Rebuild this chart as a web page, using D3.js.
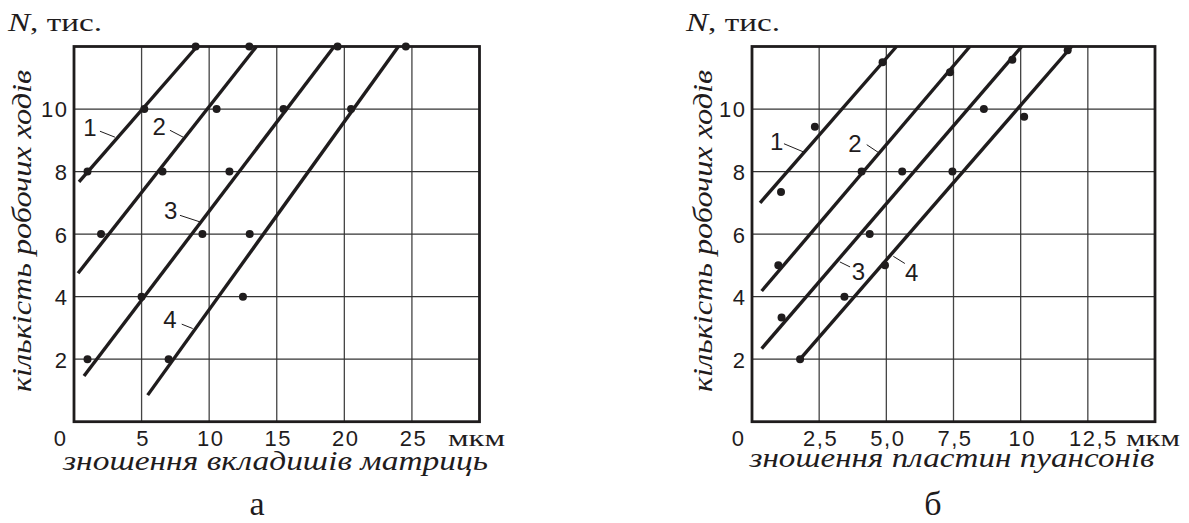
<!DOCTYPE html>
<html>
<head>
<meta charset="utf-8">
<script src="https://cdn.jsdelivr.net/npm/d3@7"></script>
<style>
  html, body { margin: 0; padding: 0; background: #fff; }
  svg { display: block; }
</style>
</head>
<body>
<svg id="chart" width="1189" height="523"></svg>
<script>
// ---------- DATA ----------
// Panel a: wear of die inserts (мкм) vs number of working strokes (N, thousand)
const aXTicks = [0, 5, 10, 15, 20, 25];
const aYTicks = [2, 4, 6, 8, 10];
const aSeriesNames = ["1", "2", "3", "4"];
const aPoints1 = [[1.0, 8], [5.2, 10], [9.0, 12]];
const aPoints2 = [[2.0, 6], [6.55, 8], [10.55, 10], [12.97, 12]];
const aPoints3 = [[1.0, 2], [5.0, 4], [9.5, 6], [11.5, 8], [15.5, 10], [19.5, 12]];
const aPoints4 = [[7.0, 2], [12.5, 4], [13.0, 6], [20.5, 10], [24.55, 12]];
const aLineStart = [[0.37, 7.67], [0.3, 4.75], [0.74, 1.46], [5.45, 0.85]];
const aLineEnd = [[9.1, 12], [13.5, 12], [19.25, 12], [24.0, 12]];

// Panel б: wear of punch plates (мкм) vs number of working strokes
const bXTicks = [0, 2.5, 5.0, 7.5, 10, 12.5];
const bXTickLabels = ["0", "2,5", "5,0", "7,5", "10", "12,5"];
const bYTicks = [2, 4, 6, 8, 10];
const bSeriesNames = ["1", "2", "3", "4"];
const bPoints1 = [[1.08, 7.35], [2.34, 9.43], [4.86, 11.5]];
const bPoints2 = [[0.98, 5.0], [4.08, 8.0], [7.37, 11.18]];
const bPoints3 = [[1.1, 3.33], [4.38, 6.0], [5.59, 8.0], [9.69, 11.58]];
const bPoints4 = [[1.79, 2.0], [3.44, 4.0], [4.95, 5.0], [7.46, 8.0], [8.63, 10.0], [10.13, 9.75], [11.75, 11.88]];
const bLineStart = [[0.3, 7.0], [0.36, 4.18], [0.36, 2.34], [1.79, 2.0]];
const bLineEnd = [[5.38, 12], [8.11, 12], [10.04, 12], [11.9, 12]];

// ---------- TEXTS ----------
const yTitle = "кількість робочих ходів";
const yUnit = "N";
const yUnitRest = ", тис.";
const xUnit = "мкм";
const aXTitle = "зношення вкладишів матриць";
const bXTitle = "зношення пластин пуансонів";
const aCaption = "а";
const bCaption = "б";

// ---------- PANEL CONFIG (layout) ----------
const panels = [
  {
    xDomain: [0, 30], xRange: [74, 479.5],
    xTicks: aXTicks, xTickLabels: aXTicks.map(String),
    yTicks: aYTicks,
    points: [aPoints1, aPoints2, aPoints3, aPoints4],
    lineStart: aLineStart, lineEnd: aLineEnd,
    names: aSeriesNames,
    labels: [
      { t: [1.18, 9.42], l: [[1.92, 9.29], [3.03, 9.1]] },
      { t: [6.31, 9.45], l: [[7.1, 9.32], [8.08, 9.1]] },
      { t: [7.15, 6.76], l: [[7.84, 6.6], [9.32, 6.39]] },
      { t: [7.1, 3.25], l: [[7.97, 3.12], [8.78, 2.98]] }
    ],
    xTitle: aXTitle, caption: aCaption,
    xTitleX: 275.5, xTitleY: 470, xTitleLen: 425,
    captionX: 257, yTitleX: 30.5, unitX: 8, mkmX: 448, mkmLen: 57
  },
  {
    xDomain: [0, 15], xRange: [752, 1155],
    xTicks: bXTicks, xTickLabels: bXTickLabels,
    yTicks: bYTicks,
    points: [bPoints1, bPoints2, bPoints3, bPoints4],
    lineStart: bLineStart, lineEnd: bLineEnd,
    names: bSeriesNames,
    labels: [
      { t: [0.92, 8.95], l: [[1.19, 8.89], [1.91, 8.63]] },
      { t: [3.83, 8.89], l: [[4.27, 8.86], [4.74, 8.59]] },
      { t: [3.96, 4.79], l: [[3.27, 5.11], [3.65, 4.95]] },
      { t: [5.94, 4.76], l: [[5.26, 5.29], [5.69, 5.06]] }
    ],
    xTitle: bXTitle, caption: bCaption,
    xTitleX: 952, xTitleY: 467, xTitleLen: 405,
    captionX: 933, yTitleX: 712, unitX: 686, mkmX: 1126, mkmLen: 54
  }
];

const yDomain = [0, 12];
const yRange = [421.7, 46.5];
const ink = "#1f1c1d";
const SERIF = "Liberation Serif";
const SANS = "Liberation Sans";

const svg = d3.select("#chart");

panels.forEach(p => {
  const x = d3.scaleLinear().domain(p.xDomain).range(p.xRange);
  const y = d3.scaleLinear().domain(yDomain).range(yRange);
  const g = svg.append("g");

  // grid
  const gridX = p.xTicks.filter(v => v > 0);
  g.append("g").selectAll("line").data(gridX).join("line")
    .attr("x1", d => x(d)).attr("x2", d => x(d))
    .attr("y1", y(yDomain[0])).attr("y2", y(yDomain[1]))
    .attr("stroke", "#444").attr("stroke-width", 1.3);
  g.append("g").selectAll("line").data(p.yTicks).join("line")
    .attr("x1", x(p.xDomain[0])).attr("x2", x(p.xDomain[1]))
    .attr("y1", d => y(d)).attr("y2", d => y(d))
    .attr("stroke", "#333").attr("stroke-width", 1.3);

  // frame
  g.append("rect")
    .attr("x", x(p.xDomain[0])).attr("y", y(yDomain[1]))
    .attr("width", x(p.xDomain[1]) - x(p.xDomain[0]))
    .attr("height", y(yDomain[0]) - y(yDomain[1]))
    .attr("fill", "none").attr("stroke", ink).attr("stroke-width", 2.8);

  // x axis tick labels via d3 axis
  const xAxis = d3.axisBottom(x).tickValues(p.xTicks)
    .tickFormat((d, i) => p.xTickLabels[i]).tickSize(0).tickPadding(0);
  const ax = g.append("g").attr("transform", `translate(0,${y(0)})`).call(xAxis);
  ax.attr("font-family", null).attr("font-size", null);
  ax.select(".domain").remove();
  ax.selectAll("text")
    .style("font-family", SANS).style("font-size", "22px").style("letter-spacing", "1.5px")
    .attr("fill", ink)
    .attr("y", 24.5).attr("dy", 0)
    .attr("dx", (d) => d === 0 ? -14 : (d === 12.5 ? 5 : 1));

  // y axis tick labels via d3 axis
  const yAxis = d3.axisLeft(y).tickValues(p.yTicks).tickSize(0).tickPadding(5.5);
  const ay = g.append("g").attr("transform", `translate(${x(p.xDomain[0])},0)`).call(yAxis);
  ay.attr("font-family", null).attr("font-size", null);
  ay.select(".domain").remove();
  ay.selectAll("text")
    .style("font-family", SANS).style("font-size", "22px").style("letter-spacing", "1.5px")
    .attr("fill", ink)
    .attr("dy", "0.36em");

  // fitted lines
  g.append("g").selectAll("line").data(p.lineStart).join("line")
    .attr("x1", d => x(d[0])).attr("y1", d => y(d[1]))
    .attr("x2", (d, i) => x(p.lineEnd[i][0])).attr("y2", (d, i) => y(p.lineEnd[i][1]))
    .attr("stroke", ink).attr("stroke-width", 3.4);

  // points
  p.points.forEach(series => {
    g.append("g").selectAll("circle").data(series).join("circle")
      .attr("cx", d => x(d[0])).attr("cy", d => y(d[1]))
      .attr("r", 4).attr("fill", ink);
  });

  // series labels with leaders
  p.labels.forEach((lb, i) => {
    g.append("line")
      .attr("x1", x(lb.l[0][0])).attr("y1", y(lb.l[0][1]))
      .attr("x2", x(lb.l[1][0])).attr("y2", y(lb.l[1][1]))
      .attr("stroke", ink).attr("stroke-width", 1);
    g.append("text")
      .attr("x", x(lb.t[0])).attr("y", y(lb.t[1]))
      .attr("dy", "0.35em").attr("text-anchor", "middle")
      .style("font-family", SANS).style("font-size", "24px")
      .attr("fill", ink)
      .text(p.names[i]);
  });

  // unit label "N, тис."
  const ut = g.append("text")
    .attr("x", p.unitX).attr("y", 31)
    .style("font-family", SERIF).style("font-size", "26px")
    .attr("textLength", 94).attr("lengthAdjust", "spacingAndGlyphs")
    .attr("fill", ink);
  ut.append("tspan").style("font-style", "italic").text(yUnit);
  ut.append("tspan").text(yUnitRest);

  // мкм
  g.append("text")
    .attr("x", p.mkmX).attr("y", 446)
    .style("font-family", SERIF).style("font-size", "24px")
    .attr("textLength", p.mkmLen).attr("lengthAdjust", "spacingAndGlyphs")
    .attr("fill", ink)
    .text(xUnit);

  // y title (rotated)
  g.append("text")
    .attr("transform", `translate(${p.yTitleX},${231}) rotate(-90)`)
    .attr("text-anchor", "middle")
    .style("font-family", SERIF).style("font-style", "italic").style("font-size", "27px")
    .attr("textLength", 322).attr("lengthAdjust", "spacingAndGlyphs")
    .attr("fill", ink)
    .text(yTitle);

  // x title
  g.append("text")
    .attr("x", p.xTitleX).attr("y", p.xTitleY)
    .attr("text-anchor", "middle")
    .style("font-family", SERIF).style("font-style", "italic").style("font-size", "27px")
    .attr("textLength", p.xTitleLen).attr("lengthAdjust", "spacingAndGlyphs")
    .attr("fill", ink)
    .text(p.xTitle);

  // caption
  g.append("text")
    .attr("x", p.captionX).attr("y", 515)
    .attr("text-anchor", "middle")
    .style("font-family", SERIF).style("font-size", "34px")
    .attr("fill", ink)
    .text(p.caption);
});
</script>
</body>
</html>
